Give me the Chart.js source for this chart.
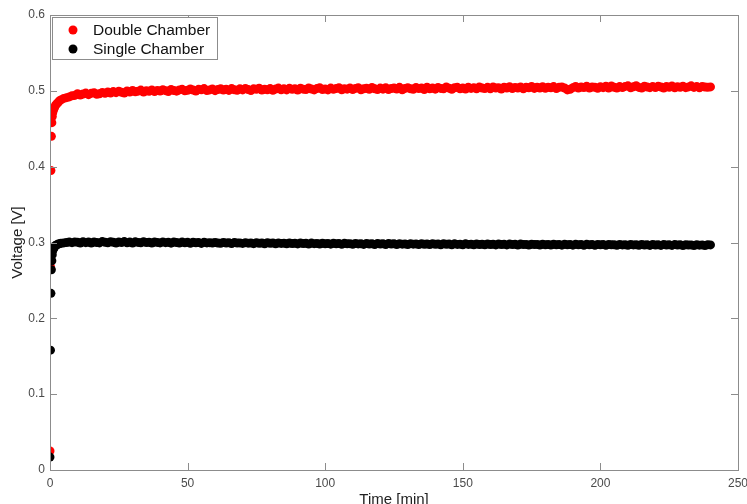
<!DOCTYPE html>
<html>
<head>
<meta charset="utf-8">
<script src="https://cdn.jsdelivr.net/npm/chart.js@4.4.0/dist/chart.umd.min.js"></script>
<style>
    html, body { margin: 0; padding: 0; background: #fff; overflow: hidden; }
    #wrap { width: 747px; height: 514px; position: relative; }
</style>
</head>
<body>
<div id="wrap"><canvas id="voltChart"></canvas></div>
<script>
// time of each sample [min]
const timeMin = [
    0, 0.17, 0.33, 0.5, 0.67, 0.83, 1, 1.33, 1.67, 2, 2.5, 3, 3.5, 4, 5, 6, 7, 8, 9,
    10, 11, 12, 13, 14, 15, 16, 17, 18, 19,
    20, 21, 22, 23, 24, 25, 26, 27, 28, 29,
    30, 31, 32, 33, 34, 35, 36, 37, 38, 39,
    40, 41, 42, 43, 44, 45, 46, 47, 48, 49,
    50, 51, 52, 53, 54, 55, 56, 57, 58, 59,
    60, 61, 62, 63, 64, 65, 66, 67, 68, 69,
    70, 71, 72, 73, 74, 75, 76, 77, 78, 79,
    80, 81, 82, 83, 84, 85, 86, 87, 88, 89,
    90, 91, 92, 93, 94, 95, 96, 97, 98, 99,
    100, 101, 102, 103, 104, 105, 106, 107, 108, 109,
    110, 111, 112, 113, 114, 115, 116, 117, 118, 119,
    120, 121, 122, 123, 124, 125, 126, 127, 128, 129,
    130, 131, 132, 133, 134, 135, 136, 137, 138, 139,
    140, 141, 142, 143, 144, 145, 146, 147, 148, 149,
    150, 151, 152, 153, 154, 155, 156, 157, 158, 159,
    160, 161, 162, 163, 164, 165, 166, 167, 168, 169,
    170, 171, 172, 173, 174, 175, 176, 177, 178, 179,
    180, 181, 182, 183, 184, 185, 186, 187, 188, 189,
    190, 191, 192, 193, 194, 195, 196, 197, 198, 199,
    200, 201, 202, 203, 204, 205, 206, 207, 208, 209,
    210, 211, 212, 213, 214, 215, 216, 217, 218, 219,
    220, 221, 222, 223, 224, 225, 226, 227, 228, 229,
    230, 231, 232, 233, 234, 235, 236, 237, 238, 239,
    240
];

const doubleChamber = [
    0.025, 0.268, 0.395, 0.440, 0.458, 0.466, 0.471, 0.475, 0.478, 0.481, 0.483, 0.485, 0.487, 0.488, 0.490, 0.491, 0.492, 0.4935, 0.494,
    0.4962, 0.4945, 0.4958, 0.4970, 0.4950, 0.4967, 0.4975, 0.4955, 0.4962, 0.4978,
    0.4968, 0.4985, 0.4972, 0.4990, 0.4976, 0.4995, 0.4980, 0.4970, 0.4998, 0.4985,
    0.5005, 0.4988, 0.4996, 0.5010, 0.4985, 0.5002, 0.4995, 0.5012, 0.4990, 0.5006,
    0.4998, 0.5015, 0.5002, 0.4990, 0.5018, 0.5005, 0.4996, 0.5012, 0.5020, 0.5000,
    0.5008, 0.5025, 0.5010, 0.4998, 0.5020, 0.5015, 0.5030, 0.5005, 0.5012, 0.5024,
    0.5002, 0.5018, 0.5028, 0.5010, 0.5022, 0.5006, 0.5030, 0.5015, 0.5008, 0.5026,
    0.5012, 0.5032, 0.5018, 0.5005, 0.5026, 0.5020, 0.5035, 0.5010, 0.5022, 0.5015,
    0.5030, 0.5008, 0.5024, 0.5036, 0.5015, 0.5028, 0.5012, 0.5033, 0.5020, 0.5026,
    0.5010, 0.5035, 0.5022, 0.5016, 0.5038, 0.5024, 0.5012, 0.5030, 0.5040, 0.5018,
    0.5025, 0.5012, 0.5036, 0.5020, 0.5030, 0.5042, 0.5015, 0.5028, 0.5022, 0.5038,
    0.5018, 0.5032, 0.5040, 0.5014, 0.5026, 0.5035, 0.5020, 0.5044, 0.5028, 0.5016,
    0.5036, 0.5022, 0.5042, 0.5018, 0.5030, 0.5038, 0.5024, 0.5046, 0.5015, 0.5032,
    0.5040, 0.5026, 0.5020, 0.5045, 0.5030, 0.5038, 0.5018, 0.5048, 0.5028, 0.5036,
    0.5022, 0.5044, 0.5032, 0.5026, 0.5050, 0.5035, 0.5020, 0.5040, 0.5046, 0.5028,
    0.5038, 0.5024, 0.5048, 0.5032, 0.5042, 0.5026, 0.5052, 0.5036, 0.5030, 0.5046,
    0.5028, 0.5050, 0.5036, 0.5042, 0.5024, 0.5048, 0.5038, 0.5055, 0.5030, 0.5044,
    0.5036, 0.5052, 0.5028, 0.5046, 0.5040, 0.5058, 0.5032, 0.5048, 0.5038, 0.5054,
    0.5034, 0.5048, 0.5040, 0.5056, 0.5030, 0.5046, 0.5052, 0.5038, 0.5012, 0.5020,
    0.5042, 0.5058, 0.5036, 0.5050, 0.5044, 0.5062, 0.5038, 0.5052, 0.5046, 0.5034,
    0.5055, 0.5042, 0.5060, 0.5038, 0.5064, 0.5048, 0.5036, 0.5056, 0.5044, 0.5058,
    0.5066, 0.5040, 0.5054, 0.5068, 0.5045, 0.5038, 0.5060, 0.5050, 0.5042, 0.5056,
    0.5044, 0.5062, 0.5050, 0.5038, 0.5058, 0.5046, 0.5064, 0.5040, 0.5054, 0.5048,
    0.5060, 0.5042, 0.5052, 0.5066, 0.5045, 0.5056, 0.5040, 0.5058, 0.5050, 0.5046,
    0.5052
];

const singleChamber = [
    0.017, 0.158, 0.233, 0.264, 0.276, 0.284, 0.289, 0.292, 0.294, 0.296, 0.297, 0.298, 0.2985, 0.299, 0.2995, 0.3000, 0.3005, 0.2998, 0.3008,
    0.3004, 0.2994, 0.3010, 0.2998, 0.3006, 0.2992, 0.3008, 0.3000, 0.2995, 0.3012,
    0.3002, 0.2996, 0.3010, 0.3004, 0.2993, 0.3008, 0.3000, 0.3012, 0.2997, 0.3005,
    0.2994, 0.3009, 0.3001, 0.2996, 0.3011, 0.2999, 0.3004, 0.2992, 0.3007, 0.3001,
    0.2995, 0.3008, 0.2998, 0.3003, 0.2991, 0.3006, 0.2999, 0.2994, 0.3005, 0.2997,
    0.3002, 0.2990, 0.3004, 0.2996, 0.2999, 0.2988, 0.3003, 0.2995, 0.2998, 0.2992,
    0.3001, 0.2993, 0.2989, 0.3000, 0.2994, 0.2997, 0.2986, 0.2999, 0.2992, 0.2995,
    0.2988, 0.2998, 0.2991, 0.2994, 0.2985, 0.2997, 0.2990, 0.2993, 0.2984, 0.2996,
    0.2989, 0.2992, 0.2983, 0.2995, 0.2988, 0.2991, 0.2982, 0.2994, 0.2987, 0.2990,
    0.2981, 0.2993, 0.2986, 0.2989, 0.2980, 0.2992, 0.2985, 0.2988, 0.2979, 0.2991,
    0.2984, 0.2987, 0.2978, 0.2990, 0.2983, 0.2986, 0.2977, 0.2989, 0.2982, 0.2985,
    0.2976, 0.2988, 0.2981, 0.2984, 0.2975, 0.2987, 0.2980, 0.2983, 0.2974, 0.2986,
    0.2980, 0.2983, 0.2974, 0.2986, 0.2979, 0.2982, 0.2973, 0.2985, 0.2978, 0.2981,
    0.2973, 0.2985, 0.2978, 0.2981, 0.2972, 0.2984, 0.2977, 0.2980, 0.2972, 0.2983,
    0.2976, 0.2979, 0.2971, 0.2983, 0.2976, 0.2979, 0.2970, 0.2982, 0.2975, 0.2978,
    0.2970, 0.2982, 0.2975, 0.2978, 0.2969, 0.2981, 0.2974, 0.2977, 0.2969, 0.2980,
    0.2974, 0.2977, 0.2968, 0.2980, 0.2973, 0.2976, 0.2968, 0.2979, 0.2973, 0.2976,
    0.2967, 0.2979, 0.2972, 0.2975, 0.2967, 0.2978, 0.2972, 0.2975, 0.2966, 0.2978,
    0.2971, 0.2974, 0.2966, 0.2977, 0.2971, 0.2974, 0.2965, 0.2977, 0.2970, 0.2973,
    0.2965, 0.2976, 0.2970, 0.2973, 0.2964, 0.2976, 0.2970, 0.2972, 0.2964, 0.2975,
    0.2969, 0.2972, 0.2964, 0.2975, 0.2969, 0.2971, 0.2963, 0.2974, 0.2968, 0.2971,
    0.2963, 0.2974, 0.2968, 0.2970, 0.2963, 0.2973, 0.2967, 0.2970, 0.2962, 0.2973,
    0.2967, 0.2970, 0.2962, 0.2972, 0.2967, 0.2969, 0.2962, 0.2972, 0.2966, 0.2969,
    0.2961, 0.2971, 0.2966, 0.2968, 0.2961, 0.2971, 0.2965, 0.2968, 0.2961, 0.2970,
    0.2968
];

const seriesNames = ['Double Chamber', 'Single Chamber'];
const seriesColors = ['#ff0000', '#000000'];

const xTicks = [0, 50, 100, 150, 200, 250];
const yTicks = [0, 0.1, 0.2, 0.3, 0.4, 0.5, 0.6];

const fontFamily = '"Liberation Sans", Arial, Helvetica, sans-serif';
const axisColor = '#8c8c8c';
const textColor = '#4a4a4a';

function toPoints(values) {
    return timeMin.map((t, i) => ({ x: t, y: values[i] }));
}

// MATLAB style box with inward ticks, plus legend drawn inside the axes
const boxPlugin = {
    id: 'matlabBox',
    afterDraw(chart) {
        const { ctx, chartArea: a, scales } = chart;
        const tick = 7;
        ctx.save();
        ctx.strokeStyle = axisColor;
        ctx.lineWidth = 1;
        ctx.strokeRect(a.left + 0.5, a.top + 0.5, a.right - a.left, a.bottom - a.top);

        ctx.beginPath();
        xTicks.forEach(v => {
            const px = Math.round(scales.x.getPixelForValue(v)) + 0.5;
            ctx.moveTo(px, a.bottom);
            ctx.lineTo(px, a.bottom - tick);
            ctx.moveTo(px, a.top);
            ctx.lineTo(px, a.top + tick);
        });
        yTicks.forEach(v => {
            const py = Math.round(scales.y.getPixelForValue(v)) + 0.5;
            ctx.moveTo(a.left, py);
            ctx.lineTo(a.left + tick, py);
            ctx.moveTo(a.right, py);
            ctx.lineTo(a.right - tick, py);
        });
        ctx.stroke();

        // legend
        const lx = a.left + 2, ly = a.top + 2, lw = 165, lh = 42;
        ctx.fillStyle = '#fff';
        ctx.fillRect(lx, ly, lw, lh);
        ctx.strokeStyle = '#8c8c8c';
        ctx.strokeRect(lx + 0.5, ly + 0.5, lw, lh);
        ctx.font = '15.5px ' + fontFamily;
        ctx.textBaseline = 'middle';
        seriesNames.forEach((name, i) => {
            const cy = ly + 13 + i * 19;
            ctx.fillStyle = seriesColors[i];
            ctx.beginPath();
            ctx.arc(lx + 21, cy, 4.5, 0, Math.PI * 2);
            ctx.fill();
            ctx.fillStyle = '#111';
            ctx.fillText(name, lx + 41, cy + 1);
        });
        ctx.restore();
    }
};

const config = {
    type: 'scatter',
    data: {
        datasets: [
            {
                label: seriesNames[0],
                data: toPoints(doubleChamber),
                backgroundColor: seriesColors[0],
                borderWidth: 0,
                pointRadius: 4.5,
                order: 1
            },
            {
                label: seriesNames[1],
                data: toPoints(singleChamber),
                backgroundColor: seriesColors[1],
                borderWidth: 0,
                pointRadius: 4.5,
                order: 0
            }
        ]
    },
    options: {
        responsive: true,
        maintainAspectRatio: false,
        animation: false,
        layout: { padding: { top: 15, right: 9, left: 0, bottom: 0 } },
        plugins: {
            legend: { display: false },
            tooltip: { enabled: false }
        },
        scales: {
            x: {
                type: 'linear',
                min: 0,
                max: 250,
                afterBuildTicks: scale => { scale.ticks = xTicks.map(v => ({ value: v })); },
                afterFit: scale => {
                    scale.height = 44;
                    scale.paddingLeft = 0;
                    scale.paddingRight = 0;
                },
                grid: { display: false, drawTicks: false },
                border: { display: false },
                ticks: {
                    padding: 6,
                    color: textColor,
                    font: { family: fontFamily, size: 12 },
                    maxRotation: 0
                },
                title: {
                    display: true,
                    text: 'Time [min]',
                    color: '#222',
                    font: { family: fontFamily, size: 15 },
                    padding: { top: 0, bottom: 5 }
                }
            },
            y: {
                type: 'linear',
                min: 0,
                max: 0.6,
                afterBuildTicks: scale => { scale.ticks = yTicks.map(v => ({ value: v })); },
                afterFit: scale => {
                    scale.width = 50;
                    scale.paddingTop = 0;
                    scale.paddingBottom = 0;
                },
                grid: { display: false, drawTicks: false },
                border: { display: false },
                ticks: {
                    padding: 5,
                    color: textColor,
                    font: { family: fontFamily, size: 12 },
                    callback: v => String(Math.round(v * 10) / 10)
                },
                title: {
                    display: true,
                    text: 'Voltage [V]',
                    color: '#222',
                    font: { family: fontFamily, size: 15 },
                    padding: { top: 9, bottom: 0 }
                }
            }
        }
    },
    plugins: [boxPlugin]
};

const ctx = document.getElementById('voltChart').getContext('2d');
const chart = new Chart(ctx, config);
</script>
</body>
</html>
